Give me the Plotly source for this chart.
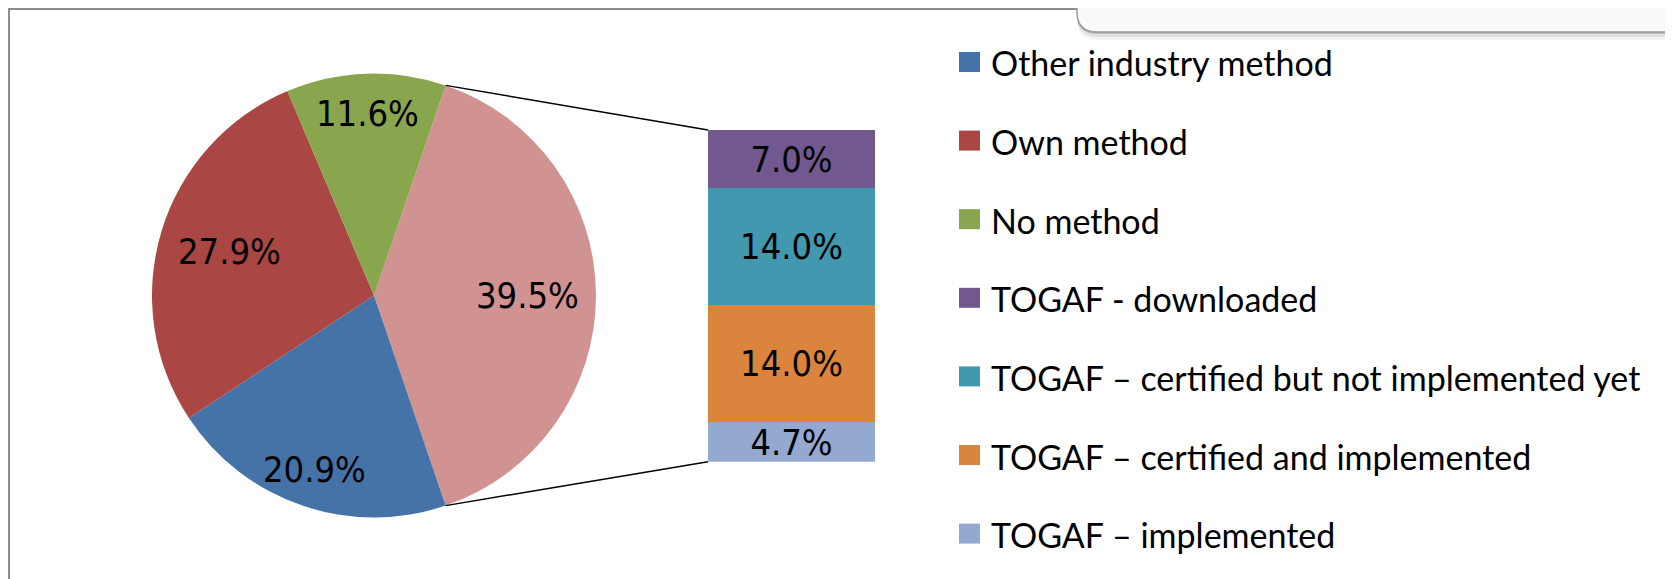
"""Pie-of-bar chart: EA method in use, TOGAF split out into a bar."""

import math

import plotly.graph_objects as go

W, H = 1673, 579
OFF = 8  # the page body margin shifts the figure by this much
FIG_W, FIG_H = W - OFF, H - OFF

# main pie, percent of respondents (first slice is the "Other" group)
pie_labels = ["Other", "Other industry method", "Own method", "No method"]
pie_values = [39.5, 20.9, 27.9, 11.6]
pie_colors = ["#D19392", "#4572A7", "#AA4643", "#89A54E"]

# breakdown of the "Other" slice, listed bottom to top of the bar
bar_labels = [
    "TOGAF – implemented",
    "TOGAF – certified and implemented",
    "TOGAF – certified but not implemented yet",
    "TOGAF - downloaded",
]
bar_values = [4.7, 14.0, 14.0, 7.0]
bar_colors = ["#93A9CF", "#DB843D", "#4198AF", "#71588F"]

legend_labels = pie_labels[1:] + bar_labels[::-1]
legend_colors = pie_colors[1:] + bar_colors[::-1]

LABEL_FONT = "Liberation Sans Narrow, DejaVu Sans Condensed, Roboto, sans-serif"
LEGEND_FONT = "Lato, Roboto, sans-serif"

# geometry in page pixels
PIE_CX, PIE_CY, PIE_R = 374, 295.5, 222
LABEL_R = [0.69, 0.83, 0.68, 0.82]  # radial spot of each slice label
BAR_X0, BAR_X1, BAR_TOP, BAR_BOT = 708, 875, 130, 461.7


def px(x):
    return (x - OFF) / FIG_W


def py(y):
    return 1 - (y - OFF) / FIG_H


# rotate so the "Other" slice faces the bar
total = sum(pie_values)
start_deg = 90 - 180 * pie_values[0] / total
end_deg = start_deg + 360 * pie_values[0] / total

fig = go.Figure()

fig.add_trace(
    go.Pie(
        labels=pie_labels,
        values=pie_values,
        sort=False,
        direction="clockwise",
        rotation=start_deg,
        marker=dict(colors=pie_colors, line=dict(width=0)),
        textinfo="none",
        domain=dict(
            x=[px(PIE_CX - PIE_R), px(PIE_CX + PIE_R)],
            y=[py(PIE_CY + PIE_R), py(PIE_CY - PIE_R)],
        ),
        showlegend=False,
        hovertemplate="%{label}: %{value:.1f}%<extra></extra>",
    )
)

for lab, val, col in zip(bar_labels, bar_values, bar_colors):
    fig.add_trace(
        go.Bar(
            x=[0],
            y=[val],
            width=1,
            name=lab,
            marker=dict(color=col, line=dict(width=0)),
            text=[f"{val:.1f}%"],
            textposition="inside",
            insidetextanchor="middle",
            textangle=0,
            constraintext="none",
            cliponaxis=False,
            textfont=dict(family=LABEL_FONT, size=36, color="#000000"),
            showlegend=False,
            hovertemplate=f"{lab}: %{{y:.1f}}%<extra></extra>",
        )
    )

shapes = []
annotations = []

# outer frame of the slide panel
shapes.append(
    dict(type="rect", xref="paper", yref="paper",
         x0=px(9), y0=py(9), x1=px(W + 40), y1=py(H + 40),
         line=dict(color="#8C8C8C", width=2))
)

# slice labels on each slice's bisector
angle = start_deg
for val, rf in zip(pie_values, LABEL_R):
    span = 360 * val / total
    mid = math.radians(angle + span / 2)
    angle += span
    annotations.append(
        dict(text=f"{val:.1f}%", xref="paper", yref="paper",
             x=px(PIE_CX + rf * PIE_R * math.sin(mid)),
             y=py(PIE_CY - rf * PIE_R * math.cos(mid)),
             xanchor="center", yanchor="middle", showarrow=False,
             font=dict(family=LABEL_FONT, size=36, color="#000000"))
    )

# connector lines from the "Other" slice to the bar
for ang, by in ((start_deg, BAR_TOP), (end_deg, BAR_BOT)):
    a = math.radians(ang)
    sx = PIE_CX + PIE_R * math.sin(a)
    sy = PIE_CY - PIE_R * math.cos(a)
    shapes.append(
        dict(type="line", xref="paper", yref="paper",
             x0=px(sx), y0=py(sy), x1=px(BAR_X0), y1=py(by),
             line=dict(color="#000000", width=1.5))
    )


# title box of the slide, cut off at the top right
def box_path(off):
    xl, yb, r = 1077, 32 + off, 20
    pts = [
        f"M{px(xl)},{py(-20)}",
        f"L{px(xl)},{py(yb - r)}",
        f"Q{px(xl)},{py(yb)} {px(xl + r)},{py(yb)}",
        f"L{px(W + 40)},{py(yb)}",
        f"L{px(W + 40)},{py(-20)}",
        "Z",
    ]
    return " ".join(pts)


for off, op in ((8, 0.04), (5, 0.08), (2, 0.16)):
    shapes.append(
        dict(type="path", xref="paper", yref="paper", path=box_path(off),
             fillcolor="#000000", opacity=op, line=dict(width=0))
    )
shapes.append(
    dict(type="path", xref="paper", yref="paper", path=box_path(0),
         fillcolor="#F9F9F9", line=dict(color="#9A9A9A", width=1.5))
)

# legend, one row per category
LEG_Y0, LEG_STEP = 62, 78.6
for i, (lab, col) in enumerate(zip(legend_labels, legend_colors)):
    yc = LEG_Y0 + i * LEG_STEP
    shapes.append(
        dict(type="rect", xref="paper", yref="paper",
             x0=px(959), x1=px(980), y0=py(yc - 10), y1=py(yc + 10),
             fillcolor=col, line=dict(width=0))
    )
    annotations.append(
        dict(text=lab, xref="paper", yref="paper", x=px(989), y=py(yc + 1),
             xanchor="left", yanchor="middle", showarrow=False,
             font=dict(family=LEGEND_FONT, size=34, color="#000000"))
    )

fig.update_layout(
    width=FIG_W,
    height=FIG_H,
    margin=dict(l=0, r=0, t=0, b=0),
    paper_bgcolor="#ffffff",
    plot_bgcolor="rgba(0,0,0,0)",
    barmode="stack",
    showlegend=False,
    xaxis=dict(domain=[px(BAR_X0), px(BAR_X1)], range=[-0.5, 0.5],
               visible=False, fixedrange=True),
    yaxis=dict(domain=[py(BAR_BOT), py(BAR_TOP)], range=[0, sum(bar_values)],
               visible=False, fixedrange=True),
    shapes=shapes,
    annotations=annotations,
)

fig.write_html("out.html")
